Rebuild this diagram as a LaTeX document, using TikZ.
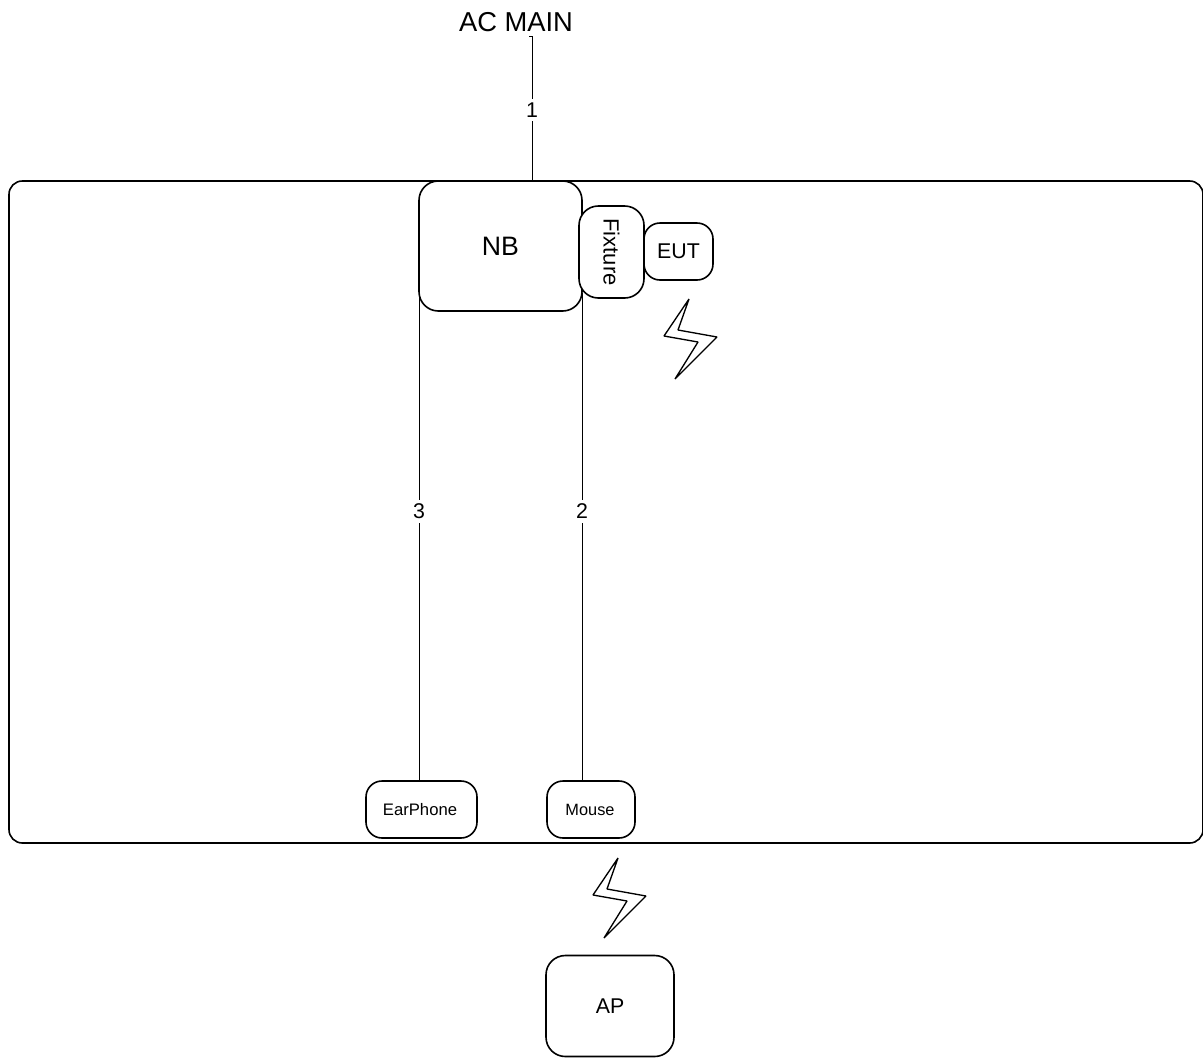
\documentclass[tikz,border=0pt]{standalone}
\usepackage{fontspec}
\setmainfont{Liberation Sans}
\usetikzlibrary{positioning}
\tikzset{
  unitbox/.style={draw, fill=white, rounded corners=14.5pt, inner sep=0pt, outer sep=0pt, line width=1.2pt},
  smallbox/.style={unitbox, rounded corners=12pt},
  cablelabel/.style={fill=white, font=\fontsize{16}{18}\selectfont, inner xsep=1.5pt, inner ysep=3pt},
  cable/.style={line width=0.75pt},
  bolt/.style={line width=1pt, line join=bevel}
}
\begin{document}
\begin{tikzpicture}[x=0.75pt,y=-0.75pt]
      \useasboundingbox (0,0) rectangle (1203,1057);
      \node[unitbox, rounded corners=10pt, minimum width=895.5pt, minimum height=496.5pt] (room) at (606,512) {};
      \node[font=\fontsize{20.5}{24}\selectfont] (acmain) at (516,22) {AC MAIN};
      \node[unitbox, minimum width=122.25pt, minimum height=97.5pt, font=\fontsize{20}{24}\selectfont] (nb) at (500.5,246) {NB};
      \node[unitbox, rotate=-90, minimum width=69pt, minimum height=48.75pt, font=\fontsize{16.5}{20}\selectfont] (fixture) at (611.5,252) {Fixture};
      \node[smallbox, minimum width=51.75pt, minimum height=42.75pt, font=\fontsize{16}{18}\selectfont] (eut) at (678.5,251.5) {EUT};
      \node[smallbox, minimum width=83.25pt, minimum height=42.75pt, font=\fontsize{12.5}{14}\selectfont] (earphone) at (421.5,809.5) {\hspace*{-2.25pt}EarPhone};
      \node[smallbox, minimum width=66pt, minimum height=42.75pt, font=\fontsize{12.25}{14}\selectfont] (mouse) at (591,809.5) {\hspace*{-1.5pt}Mouse};
      \node[unitbox, minimum width=96pt, minimum height=75.75pt, font=\fontsize{16}{18}\selectfont] (ap) at (610,1006) {AP};
      % cables
      \coordinate (acend) at (532,36);
      \coordinate (actick) at (529,36);
      \coordinate (nbleft) at (419,293);
      \coordinate (nbright) at (582,293);
      \draw[cable] (actick) -- (acend) -- node[cablelabel, pos=0.51] (n1) {1} (acend |- room.north);
      \draw[cable] (nbleft) -- node[cablelabel, pos=0.447] (n3) {3} (nbleft |- earphone.north);
      \draw[cable] (nbright) -- node[cablelabel, pos=0.447] (n2) {2} (nbright |- mouse.north);
      % wireless
      \foreach \bx/\by in {0/0,-71/559} {
        \draw[bolt, shift={(\bx*0.75pt,-\by*0.75pt)}] (689,299) -- (678,330) -- (717,337) -- (675,379) -- (698,342) -- (664,336) -- cycle;
      }
\end{tikzpicture}
\end{document}
